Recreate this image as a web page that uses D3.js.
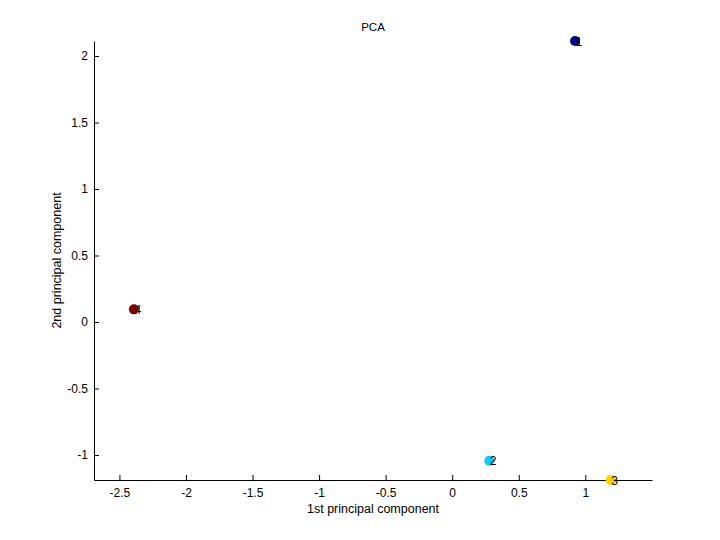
<!DOCTYPE html>
<html><head><meta charset="utf-8">
<script src="https://cdn.jsdelivr.net/npm/d3@7"></script>
<style>body{margin:0;background:#fff}svg{display:block}text{font-family:"Liberation Sans",Arial,sans-serif}</style>
</head><body>
<script>
const labels = ["1","2","3","4"];
const pc1 = [0.923, 0.279, 1.191, -2.391];
const pc2 = [2.113, -1.043, -1.188, 0.095];
const colors = ["#00008F","#10C8FF","#FFD000","#800000"];
const xTicks = [-2.5,-2,-1.5,-1,-0.5,0,0.5,1];
const yTicks = [-1,-0.5,0,0.5,1,1.5,2];
const xDomain = [-2.691, 1.501];
const yDomain = [-1.188, 2.113];

const W=720,H=540;
const svg=d3.select("body").append("svg").attr("width",W).attr("height",H);
const L=94,R=652,T=41,B=480;
const x=d3.scaleLinear().domain(xDomain).range([L,R]);
const y=d3.scaleLinear().domain(yDomain).range([B,T]);

const xa=svg.append("g").attr("transform",`translate(0,${B})`)
  .call(d3.axisBottom(x).tickValues(xTicks).tickSizeInner(-5).tickSizeOuter(0).tickPadding(10).tickFormat(d=>String(d)));
const ya=svg.append("g").attr("transform",`translate(${L},0)`)
  .call(d3.axisLeft(y).tickValues(yTicks).tickSizeInner(-5).tickSizeOuter(0).tickPadding(10).tickFormat(d=>String(d)));
[xa,ya].forEach(g=>{
  g.select(".domain").attr("stroke","#000").attr("stroke-width",1);
  g.selectAll(".tick line").attr("stroke","#000");
  g.selectAll("text").attr("font-size",12).attr("fill","#000").style("font-family","'Liberation Sans',Arial,sans-serif");
});
ya.selectAll(".tick text").attr("x",-6);
xa.selectAll(".tick text").attr("y",8);

const idx=d3.range(pc1.length);
svg.append("g").selectAll("circle").data(idx).join("circle")
  .attr("cx",i=>x(pc1[i])).attr("cy",i=>y(pc2[i])).attr("r",5).attr("fill",i=>colors[i]);
svg.append("g").selectAll("text").data(idx).join("text")
  .attr("x",i=>x(pc1[i])+0.5).attr("y",i=>y(pc2[i])+4.5).attr("font-size",12).attr("fill","#000").text(i=>labels[i]);

svg.append("text").attr("x",(L+R)/2).attr("y",31).attr("text-anchor","middle").attr("font-size",11.5).text("PCA");
svg.append("text").attr("x",(L+R)/2).attr("y",513).attr("text-anchor","middle").attr("font-size",12.5).text("1st principal component");
svg.append("text").attr("transform",`translate(61,${(T+B)/2}) rotate(-90)`).attr("text-anchor","middle").attr("font-size",12.5).text("2nd principal component");
</script>
</body></html>
